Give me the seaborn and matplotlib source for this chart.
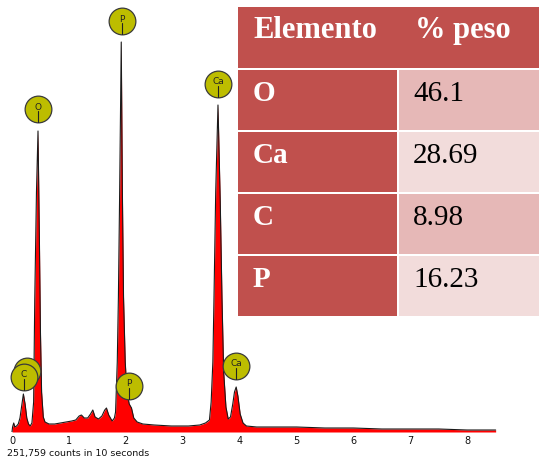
import numpy as np
import matplotlib
matplotlib.use("Agg")
import matplotlib.pyplot as plt
import seaborn as sns
from matplotlib.patches import Rectangle

# ---------------- data ----------------
energy_kev = [0.00, 0.01, 0.03, 0.05, 0.08, 0.11, 0.14, 0.17, 0.20, 0.23, 0.26, 0.29,
              0.32, 0.35, 0.38, 0.40, 0.43, 0.457, 0.48, 0.50, 0.52, 0.55, 0.58, 0.65,
              0.75, 0.85, 0.95, 1.05, 1.12, 1.18, 1.22, 1.27, 1.33, 1.38, 1.42, 1.46,
              1.52, 1.58, 1.63, 1.66, 1.70, 1.76, 1.80, 1.82, 1.85, 1.87, 1.89, 1.92,
              1.94, 1.96, 1.99, 2.02, 2.06, 2.10, 2.14, 2.20, 2.30, 2.50, 2.80, 3.10,
              3.30, 3.40, 3.47, 3.50, 3.53, 3.55, 3.58, 3.62, 3.66, 3.69, 3.72, 3.76,
              3.80, 3.84, 3.88, 3.91, 3.94, 3.97, 4.01, 4.06, 4.12, 4.30, 4.60, 5.00,
              5.50, 6.00, 6.50, 7.00, 7.50, 8.00, 8.50]
counts = [0, 5, 9, 5, 6, 8, 14, 26, 38, 28, 14, 8,
          6, 9, 30, 133, 240, 301, 200, 100, 40, 15, 10, 8,
          8, 9, 10, 11, 12, 16, 17, 14, 14, 18, 22, 15,
          13, 16, 22, 24, 17, 11, 14, 20, 70, 135, 230, 390,
          240, 135, 70, 40, 28, 24, 14, 10, 8, 7, 6, 6,
          7, 9, 12, 30, 70, 135, 240, 327, 230, 135, 60, 25,
          13, 15, 28, 40, 45, 36, 18, 9, 6, 5, 5, 5,
          4, 4, 3, 3, 3, 2, 2]

# first marker sits hidden behind the C marker (its text is not visible)
peak_labels = ["", "C", "O", "P", "P", "Ca", "Ca"]
peak_label_kev = [0.26, 0.21, 0.457, 1.93, 2.06, 3.62, 3.94]
peak_label_height = [61, 55, 323, 411, 46, 348, 66]

x_ticks = [0, 1, 2, 3, 4, 5, 6, 7, 8]
acq_text = "251,759 counts in 10 seconds"

table_header = ["Elemento", "% peso"]
table_elements = ["O", "Ca", "C", "P"]
table_weights = ["46.1", "28.69", "8.98", "16.23"]

# ---------------- figure ----------------
sns.set_style("white")
W, H = 539, 464
fig = plt.figure(figsize=(W / 100, H / 100), dpi=100)

base_px = 433
ax = fig.add_axes([0, (H - base_px) / H, 1, base_px / H])
ax.set_xlim(-12 / 56.9, (W - 12) / 56.9)
ax.set_ylim(0, base_px)

ax.fill_between(energy_kev, counts, 0, color="#FF0000", lw=0, zorder=1)
sns.lineplot(x=energy_kev, y=counts, ax=ax, color="#1a1a1a", lw=0.8, zorder=2,
             estimator=None, sort=False)

# peak markers (each drawn above the previous one)
for k, (name, ex, ey) in enumerate(zip(peak_labels, peak_label_kev, peak_label_height)):
    z = 5 + 3 * k
    ax.scatter([ex], [ey], s=370, facecolor="#BDBD00", edgecolor="#3a3a3a",
               linewidth=0.9, zorder=z, clip_on=False)
    if name:
        ax.text(ex, ey + 3, name, ha="center", va="center", fontsize=6.5,
                color="#222222", zorder=z + 1, family="DejaVu Sans")
    ax.plot([ex, ex], [ey - 2, ey - 13], color="#222222", lw=0.8, zorder=z + 1)

for s in ax.spines.values():
    s.set_visible(False)
ax.set_yticks([])
ax.set_xticks(x_ticks)
ax.set_xticklabels([str(t) for t in x_ticks])
ax.tick_params(axis="x", length=0, pad=2.5, labelsize=7, labelcolor="#111111")
ax.set_xlabel("")
ax.set_ylabel("")
ax.patch.set_alpha(0)

fig.text(7 / W, 1 - 454 / H, acq_text, ha="left", va="center", fontsize=6.8,
         color="#111111")

# ---------------- table ----------------
tx0, ty0, tx1, ty1 = 238, 8, 539, 318
tax = fig.add_axes([tx0 / W, 1 - ty1 / H, (tx1 - tx0) / W, (ty1 - ty0) / H])
tax.set_xlim(0, tx1 - tx0)
tax.set_ylim(ty1 - ty0, 0)
tax.axis("off")

dark = "#C0504D"
light = ["#E6B8B7", "#F2DCDB"]
hdr_h = 61
row_h = 62
gap = 2
left_w = 159
right_x = left_w + gap
tw = tx1 - tx0

tax.add_patch(Rectangle((0, 0), tw, hdr_h, color=dark, lw=0))
tax.text(15, 30, table_header[0], ha="left", va="baseline", color="white",
         fontsize=22, fontweight="bold", family="Liberation Serif")
tax.text(177, 30, table_header[1], ha="left", va="baseline", color="white",
         fontsize=22, fontweight="bold", family="Liberation Serif")

for i, (el, wt) in enumerate(zip(table_elements, table_weights)):
    top = hdr_h + gap + i * row_h
    h = row_h - gap
    tax.add_patch(Rectangle((0, top), left_w, h, color=dark, lw=0))
    tax.add_patch(Rectangle((right_x, top), tw - right_x, h, color=light[i % 2], lw=0))
    tax.text(15, top + 30, el, ha="left", va="baseline", color="white",
             fontsize=21, fontweight="bold", family="Liberation Serif")
    tax.text(175, top + 30, wt, ha="left", va="baseline", color="black",
             fontsize=21, family="Liberation Serif")

fig.savefig("out.png", dpi=100)
